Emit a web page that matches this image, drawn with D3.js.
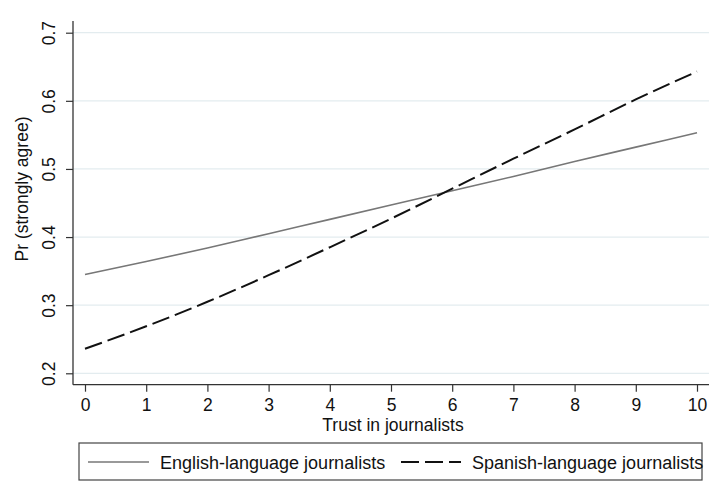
<!DOCTYPE html>
<html>
<head>
<meta charset="utf-8">
<script src="https://cdn.jsdelivr.net/npm/d3@7"></script>
<style>
  html, body { margin: 0; padding: 0; background: #fff; }
  svg { display: block; font-family: "Liberation Sans", Arial, Helvetica, sans-serif; }
</style>
</head>
<body>
<svg id="chart" width="726" height="492"></svg>
<script>
// ---- data ----
const trust = [0, 1, 2, 3, 4, 5, 6, 7, 8, 9, 10];
const english = [0.345, 0.364, 0.384, 0.405, 0.426, 0.447, 0.468, 0.489, 0.511, 0.532, 0.553];
const spanish = [0.236, 0.269, 0.305, 0.344, 0.385, 0.427, 0.471, 0.515, 0.558, 0.602, 0.643];
const xTicks = [0, 1, 2, 3, 4, 5, 6, 7, 8, 9, 10];
const yTicks = [0.2, 0.3, 0.4, 0.5, 0.6, 0.7];
const seriesNames = ["English-language journalists", "Spanish-language journalists"];
const xTitle = "Trust in journalists";
const yTitle = "Pr (strongly agree)";

// ---- layout ----
const svg = d3.select("#chart");
const plot = { left: 73, right: 709, top: 21, bottom: 384.7 };
const x = d3.scaleLinear().domain([0, 10]).range([85, 697]);
const y = d3.scaleLinear().domain([0.2, 0.7]).range([373.3, 32.7]);

svg.append("rect").attr("width", 726).attr("height", 492).attr("fill", "#fff");

// gridlines
svg.append("g").selectAll("line").data(yTicks).join("line")
  .attr("x1", plot.left).attr("x2", plot.right)
  .attr("y1", d => y(d)).attr("y2", d => y(d))
  .attr("stroke", "#e3ecef").attr("stroke-width", 1.2);

// axes
const yAxis = d3.axisLeft(y).tickValues(yTicks).tickSize(7).tickFormat(d3.format(".1f"));
const gy = svg.append("g").attr("transform", `translate(${plot.left},0)`).call(yAxis);
gy.select(".domain").remove();
gy.selectAll(".tick line").attr("stroke", "#333").attr("stroke-width", 1.2);
gy.selectAll(".tick text")
  .attr("x", null).attr("dy", null)
  .attr("text-anchor", "middle")
  .attr("transform", "translate(-18,0) rotate(-90)")
  .attr("font-size", 17.5).attr("fill", "#111");

const xAxis = d3.axisBottom(x).tickValues(xTicks).tickSize(7).tickFormat(d3.format("d"));
const gx = svg.append("g").attr("transform", `translate(0,${plot.bottom})`).call(xAxis);
gx.select(".domain").remove();
gx.selectAll(".tick line").attr("stroke", "#333").attr("stroke-width", 1.2);
gx.selectAll(".tick text")
  .attr("y", 26).attr("dy", null)
  .attr("font-size", 17.5).attr("fill", "#111");

// axis lines
svg.append("line").attr("x1", plot.left).attr("x2", plot.left)
  .attr("y1", plot.top).attr("y2", plot.bottom)
  .attr("stroke", "#333").attr("stroke-width", 1.3);
svg.append("line").attr("x1", plot.left).attr("x2", plot.right)
  .attr("y1", plot.bottom).attr("y2", plot.bottom)
  .attr("stroke", "#333").attr("stroke-width", 1.3);

// titles
svg.append("text").attr("x", (plot.left + plot.right) / 2 + 2).attr("y", 431)
  .attr("text-anchor", "middle").attr("font-size", 17.5).attr("fill", "#111").text(xTitle);
svg.append("text").attr("transform", "translate(28,189) rotate(-90)")
  .attr("text-anchor", "middle").attr("font-size", 17.5).attr("fill", "#111").text(yTitle);

// lines
const line = d3.line().x(d => x(d[0])).y(d => y(d[1])).curve(d3.curveMonotoneX);
svg.append("path").datum(trust.map((t, i) => [t, english[i]]))
  .attr("d", line).attr("fill", "none")
  .attr("stroke", "#777").attr("stroke-width", 1.6);
svg.append("path").datum(trust.map((t, i) => [t, spanish[i]]))
  .attr("d", line).attr("fill", "none")
  .attr("stroke", "#111").attr("stroke-width", 2)
  .attr("stroke-dasharray", "18,6");

// legend
const lg = svg.append("g");
lg.append("rect").attr("x", 79).attr("y", 443).attr("width", 623).attr("height", 37)
  .attr("fill", "#fff").attr("stroke", "#444").attr("stroke-width", 1.2);
lg.append("line").attr("x1", 88).attr("x2", 149).attr("y1", 462).attr("y2", 462)
  .attr("stroke", "#777").attr("stroke-width", 1.6);
lg.append("line").attr("x1", 401).attr("x2", 461).attr("y1", 462).attr("y2", 462)
  .attr("stroke", "#111").attr("stroke-width", 2).attr("stroke-dasharray", "18,6");
lg.append("text").attr("x", 160).attr("y", 469).attr("font-size", 18).attr("fill", "#111").text(seriesNames[0]);
lg.append("text").attr("x", 472).attr("y", 469).attr("font-size", 18).attr("fill", "#111").text(seriesNames[1]);
</script>
</body>
</html>
